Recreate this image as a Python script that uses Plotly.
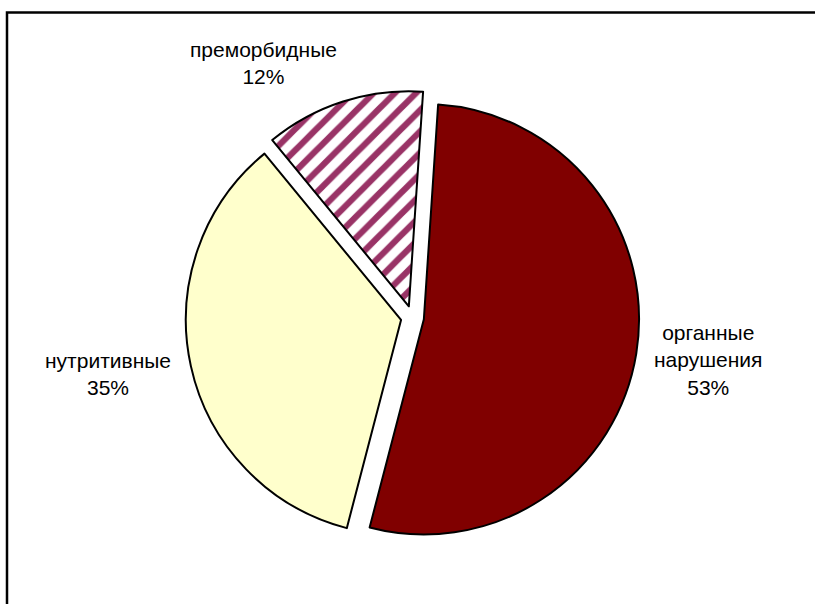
import plotly.graph_objects as go

categories = ["органные нарушения", "нутритивные", "преморбидные"]
values = [53, 35, 12]
label_texts = ["органные<br>нарушения<br>53%", "нутритивные<br>35%", "преморбидные<br>12%"]

W, H = 815, 604

fig = go.Figure()
fig.add_trace(go.Pie(
    labels=categories,
    values=values,
    sort=False,
    direction="clockwise",
    rotation=3.8,
    pull=[0.054, 0.054, 0.054],
    textinfo="none",
    hoverinfo="none",
    showlegend=False,
    marker=dict(
        colors=["#800000", "#FFFFCC", "#993366"],
        line=dict(color="#000000", width=2),
        pattern=dict(
            shape=["", "", "/"],
            bgcolor=["#FFFFFF", "#FFFFFF", "#FFFFFF"],
            size=15,
            solidity=0.42,
            fillmode="replace",
        ),
    ),
    domain=dict(x=[0.20, 0.8120], y=[0.0990, 0.8500]),
))

# label positions (pixel centers) converted to paper coordinates
label_pos = [(708, 360), (108, 374), (263, 63)]
for txt, (px, py) in zip(label_texts, label_pos):
    fig.add_annotation(
        x=px / W, y=1 - py / H, xref="paper", yref="paper",
        text=txt, showarrow=False, xanchor="center", yanchor="middle",
        align="center",
        font=dict(family="Arial, Liberation Sans, sans-serif", size=21, color="#000000"),
    )

# outer frame
fig.add_shape(
    type="rect", xref="paper", yref="paper",
    x0=7 / W, x1=1.05, y0=-0.05, y1=1 - 12.5 / H,
    line=dict(color="#000000", width=2.5), fillcolor="rgba(0,0,0,0)",
)

fig.update_layout(
    width=W, height=H,
    margin=dict(l=0, r=0, t=0, b=0),
    paper_bgcolor="#FFFFFF",
    plot_bgcolor="#FFFFFF",
)

fig.write_html("out.html")
